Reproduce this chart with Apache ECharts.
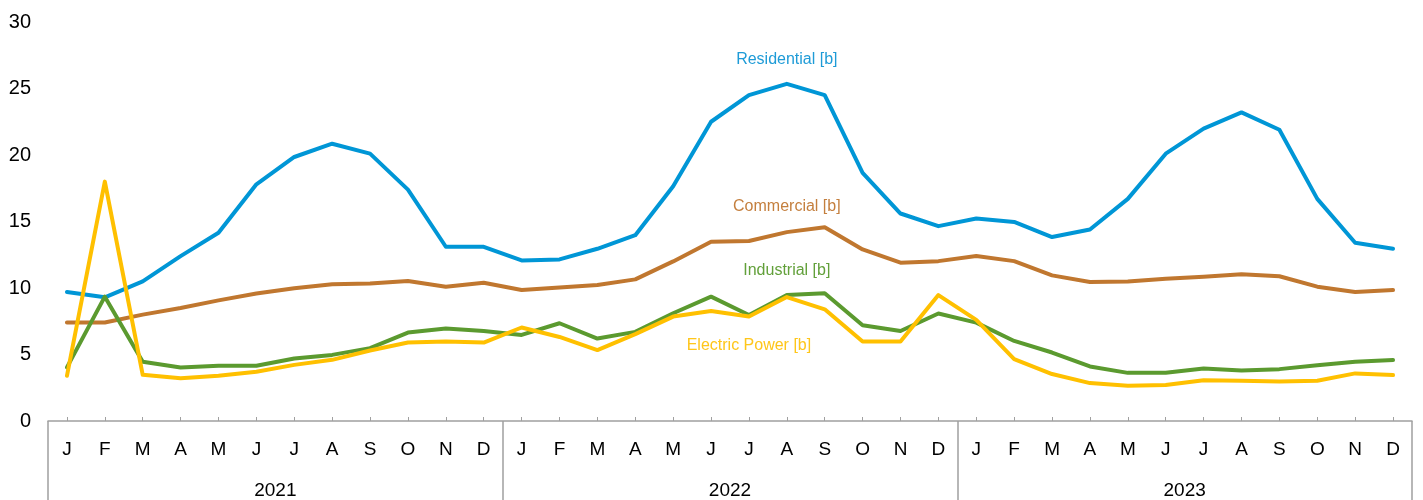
<!DOCTYPE html>
<html>
<head>
<meta charset="utf-8">
<script src="https://cdn.jsdelivr.net/npm/echarts@6/dist/echarts.min.js"></script>
<style>
html,body{margin:0;padding:0;background:#fff;}
#chart{width:1423px;height:500px;}
</style>
</head>
<body>
<div id="chart"></div>
<script>
const months = ['J','F','M','A','M','J','J','A','S','O','N','D',
                'J','F','M','A','M','J','J','A','S','O','N','D',
                'J','F','M','A','M','J','J','A','S','O','N','D'];
const years = ['2021','2022','2023'];

const residential = [9.7, 9.3, 10.5, 12.4, 14.15, 17.8, 19.85, 20.85, 20.1, 17.4, 13.1, 13.1,
                     12.07, 12.15, 12.95, 13.97, 17.65, 22.5, 24.5, 25.35, 24.5, 18.65, 15.6, 14.65,
                     15.23, 14.97, 13.83, 14.4, 16.7, 20.1, 21.98, 23.2, 21.9, 16.7, 13.4, 12.95];
const commercial = [7.4, 7.4, 8.0, 8.5, 9.07, 9.58, 9.98, 10.28, 10.33, 10.52, 10.1, 10.4,
                    9.85, 10.03, 10.22, 10.65, 12.0, 13.48, 13.53, 14.2, 14.57, 12.9, 11.9, 12.02,
                    12.4, 12.02, 10.95, 10.45, 10.48, 10.7, 10.85, 11.03, 10.88, 10.1, 9.7, 9.85];
const industrial = [4.03, 9.35, 4.45, 4.03, 4.15, 4.15, 4.7, 4.97, 5.48, 6.65, 6.95, 6.77,
                    6.47, 7.35, 6.2, 6.7, 8.1, 9.35, 7.97, 9.47, 9.6, 7.2, 6.77, 8.08,
                    7.4, 6.02, 5.15, 4.1, 3.62, 3.62, 3.95, 3.8, 3.9, 4.2, 4.45, 4.58];
const electricPower = [3.4, 18.0, 3.47, 3.22, 3.4, 3.7, 4.22, 4.6, 5.3, 5.9, 5.98, 5.9,
                       7.03, 6.32, 5.33, 6.53, 7.85, 8.27, 7.85, 9.32, 8.4, 5.98, 5.98, 9.47,
                       7.6, 4.65, 3.53, 2.85, 2.65, 2.7, 3.07, 3.02, 2.97, 3.02, 3.58, 3.45];

const names = ['Residential [b]', 'Commercial [b]', 'Industrial [b]', 'Electric Power [b]'];
const colors = ['#0096D6', '#C0772F', '#5B9A2F', '#FFC000'];
const labelColors = ['#1E9BD7', '#C47F3E', '#62A03A', '#FFC61A'];
const labelAt = [[19, 27.2], [19, 16.1], [19, 11.33], [18, 5.7]];

const FONT = '"Liberation Sans", Arial, sans-serif';
const chart = echarts.init(document.getElementById('chart'));

function mkSeries(i, data) {
  return {
    name: names[i],
    type: 'line',
    xAxisIndex: 0,
    data: data,
    symbol: 'none',
    smooth: false,
    lineStyle: { color: colors[i], width: 4, cap: 'round', join: 'round' },
    itemStyle: { color: colors[i] },
    z: 2 + i,
    markPoint: {
      symbol: 'circle',
      symbolSize: 1,
      itemStyle: { color: 'rgba(0,0,0,0)' },
      label: {
        show: true,
        position: 'inside',
        formatter: names[i],
        color: labelColors[i],
        fontSize: 16,
        fontFamily: FONT
      },
      data: [{ coord: labelAt[i] }]
    }
  };
}

chart.setOption({
  animation: false,
  backgroundColor: '#fff',
  grid: { left: 48, right: 11, top: 22, bottom: 78, containLabel: false },
  xAxis: [
    {
      type: 'category',
      data: months,
      position: 'bottom',
      boundaryGap: true,
      axisLine: { show: true, lineStyle: { color: '#A0A0A0', width: 1.5 } },
      axisTick: { show: true, inside: true, length: 4, alignWithLabel: true, lineStyle: { color: '#A0A0A0', width: 1 } },
      axisLabel: { interval: 0, margin: 19, fontSize: 19, color: '#000', fontFamily: FONT },
      splitLine: { show: false }
    },
    {
      type: 'category',
      data: years,
      position: 'bottom',
      boundaryGap: true,
      axisLine: { show: false },
      axisTick: { show: true, inside: false, length: 80, lineStyle: { color: '#A0A0A0', width: 1.5 } },
      axisLabel: { interval: 0, margin: 60, fontSize: 19, color: '#000', fontFamily: FONT },
      splitLine: { show: false }
    }
  ],
  yAxis: {
    type: 'value',
    min: 0,
    max: 30,
    interval: 5,
    axisLine: { show: false },
    axisTick: { show: false },
    splitLine: { show: false },
    axisLabel: { margin: 17, fontSize: 20, color: '#000', fontFamily: FONT }
  },
  series: [
    mkSeries(0, residential),
    mkSeries(1, commercial),
    mkSeries(2, industrial),
    mkSeries(3, electricPower)
  ]
});
</script>
</body>
</html>
